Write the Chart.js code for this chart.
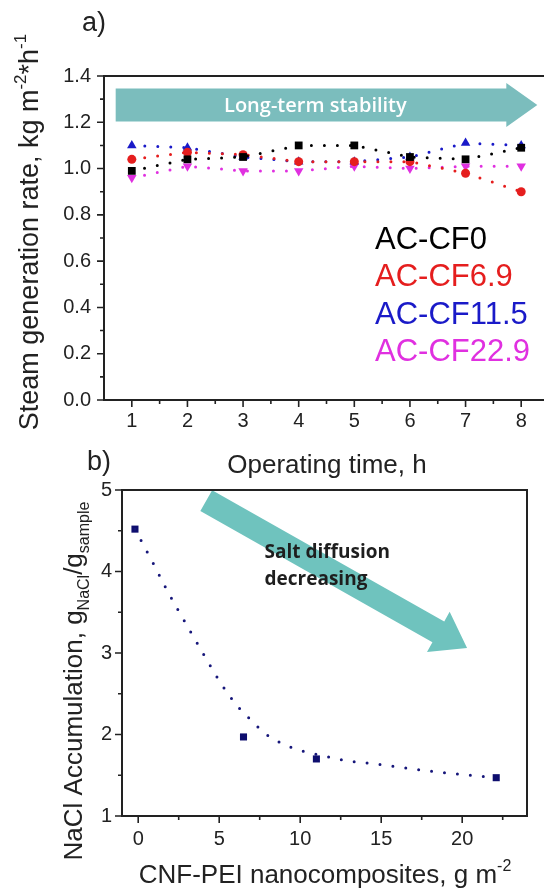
<!DOCTYPE html>
<html>
<head>
<meta charset="utf-8">
<script src="https://cdn.jsdelivr.net/npm/chart.js@4.4.1/dist/chart.umd.min.js"></script>
<style>
html, body { margin: 0; padding: 0; overflow: hidden; background: #fff; }
#wrap { position: relative; width: 544px; height: 889px; overflow: hidden; }
#topChart { position: absolute; left: 0; top: 0; }
#bottomChart { position: absolute; left: 0; top: 460px; }
</style>
</head>
<body>
<div id="wrap">
  <canvas id="topChart" width="570" height="480"></canvas>
  <canvas id="bottomChart" width="544" height="429"></canvas>
</div>
<script>
// ---- a) steam generation, 8 hours ----
var hours   = [1, 2, 3, 4, 5, 6, 7, 8];
var cf0     = [0.99, 1.04, 1.05, 1.10, 1.10, 1.05, 1.04, 1.09];
var cf69    = [1.04, 1.07, 1.06, 1.03, 1.03, 1.03, 0.98, 0.90];
var cf115   = [1.10, 1.09, 1.05, 1.03, 1.03, 1.05, 1.11, 1.10];
var cf229   = [0.96, 1.01, 0.99, 0.99, 1.01, 1.00, 1.01, 1.01];
var seriesNames = ['AC-CF0', 'AC-CF6.9', 'AC-CF11.5', 'AC-CF22.9'];
var yTicksA = [0, 0.2, 0.4, 0.6, 0.8, 1.0, 1.2, 1.4];

// ---- b) NaCl accumulation ----
var loading = [-0.2, 6.5, 11.0, 22.1];
var nacl    = [4.52, 1.97, 1.70, 1.47];
// dotted guide curve
var fitX = [-0.2, 0.98, 1.78, 2.6, 3.41, 4.31, 5.2, 6.29, 7.0, 7.72, 8.47, 9.9, 11.4, 12.86, 15.0, 17.25, 19.4, 22.1];
var fitY = [4.52, 4.08, 3.77, 3.48, 3.20, 2.89, 2.60, 2.31, 2.17, 2.03, 1.93, 1.81, 1.74, 1.68, 1.63, 1.57, 1.52, 1.47];
var xTicksB = [0, 5, 10, 15, 20];
var yTicksB = [1, 2, 3, 4, 5];

var FONT = '"Liberation Sans", Arial, sans-serif';
var INK = '#222';

function pts(xs, ys) {
    return xs.map(function (x, i) { return { x: x, y: ys[i] }; });
}

function dotted(label, data, color, style, radius, rot) {
    return {
        label: label,
        data: data,
        borderColor: color,
        backgroundColor: color,
        borderWidth: 3,
        borderDash: [0, 13],
        borderCapStyle: 'round',
        pointStyle: style,
        pointRadius: radius,
        pointRotation: rot || 0,
        pointBorderWidth: 0,
        tension: 0
    };
}

// text with sub / superscripts, centred on (x, y) baseline
function richText(ctx, parts, x, y, size, rot) {
    var small = Math.round(size * 0.62);
    ctx.save();
    ctx.translate(x, y);
    if (rot) ctx.rotate(rot);
    ctx.textAlign = 'left';
    ctx.textBaseline = 'alphabetic';
    var w = 0;
    parts.forEach(function (p) {
        ctx.font = (p[1] ? small : size) + 'px ' + FONT;
        w += ctx.measureText(p[0]).width;
    });
    var cx = -w / 2;
    parts.forEach(function (p) {
        ctx.font = (p[1] ? small : size) + 'px ' + FONT;
        var dy = p[1] === 1 ? -size * 0.45 : (p[1] === -1 ? size * 0.25 : 0);
        ctx.fillText(p[0], cx, dy);
        cx += ctx.measureText(p[0]).width;
    });
    ctx.restore();
}

function frameTicks(chart, xMajor, xMinor, yMajor, yMinor) {
    var ctx = chart.ctx, a = chart.chartArea, xs = chart.scales.x, ys = chart.scales.y;
    ctx.save();
    ctx.strokeStyle = INK;
    ctx.lineWidth = 2;
    ctx.strokeRect(a.left, a.top, a.right - a.left, a.bottom - a.top);
    ctx.lineWidth = 1.6;
    ctx.beginPath();
    xMajor.forEach(function (v) { var p = xs.getPixelForValue(v); ctx.moveTo(p, a.bottom); ctx.lineTo(p, a.bottom + 7); });
    xMinor.forEach(function (v) { var p = xs.getPixelForValue(v); ctx.moveTo(p, a.bottom); ctx.lineTo(p, a.bottom + 4); });
    yMajor.forEach(function (v) { var p = ys.getPixelForValue(v); ctx.moveTo(a.left, p); ctx.lineTo(a.left - 7, p); });
    yMinor.forEach(function (v) { var p = ys.getPixelForValue(v); ctx.moveTo(a.left, p); ctx.lineTo(a.left - 4, p); });
    ctx.stroke();
    ctx.restore();
}

function arrow(ctx, x0, y0, x1, y1, half, headHalf, headLen, color) {
    var dx = x1 - x0, dy = y1 - y0, len = Math.sqrt(dx * dx + dy * dy);
    var ux = dx / len, uy = dy / len, nx = -uy, ny = ux;
    var bx = x1 - ux * headLen, by = y1 - uy * headLen;
    ctx.save();
    ctx.fillStyle = color;
    ctx.beginPath();
    ctx.moveTo(x0 + nx * half, y0 + ny * half);
    ctx.lineTo(bx + nx * half, by + ny * half);
    ctx.lineTo(bx + nx * headHalf, by + ny * headHalf);
    ctx.lineTo(x1, y1);
    ctx.lineTo(bx - nx * headHalf, by - ny * headHalf);
    ctx.lineTo(bx - nx * half, by - ny * half);
    ctx.lineTo(x0 - nx * half, y0 - ny * half);
    ctx.closePath();
    ctx.fill();
    ctx.restore();
}

function seq(from, to, step) {
    var out = [];
    for (var v = from; v <= to + 1e-9; v += step) out.push(Math.round(v * 100) / 100);
    return out;
}

var baseScale = function (min, max, ticks, fit, pad, fmt) {
    return {
        type: 'linear',
        min: min,
        max: max,
        afterBuildTicks: function (s) { s.ticks = ticks.map(function (v) { return { value: v }; }); },
        afterFit: fit,
        grid: { drawOnChartArea: false, drawTicks: false },
        border: { display: false },
        ticks: {
            padding: pad,
            color: INK,
            font: { family: FONT, size: 20 },
            callback: fmt || function (v) { return v; }
        }
    };
};

// ---------- chart a) ----------
var topDeco = {
    id: 'topDeco',
    beforeDatasetsDraw: function (chart) {
        var ctx = chart.ctx, xs = chart.scales.x, ys = chart.scales.y;
        arrow(ctx, xs.getPixelForValue(0.71), ys.getPixelForValue(1.275),
                   xs.getPixelForValue(8.29), ys.getPixelForValue(1.275), 16.5, 22, 31, '#7bbdbd');
        ctx.save();
        ctx.fillStyle = '#fff';
        ctx.font = '600 20px "Open Sans", sans-serif';
        ctx.textAlign = 'center';
        ctx.textBaseline = 'middle';
        ctx.fillText('Long-term stability', xs.getPixelForValue(4.3), ys.getPixelForValue(1.275) + 1);
        ctx.restore();
    },
    afterDraw: function (chart) {
        var ctx = chart.ctx;
        frameTicks(chart, hours, seq(1.5, 8.5, 1), yTicksA, seq(0.1, 1.3, 0.2));
        ctx.save();
        ctx.fillStyle = INK;
        richText(ctx, [['a)', 0]], 94, 31, 27);
        richText(ctx, [['Steam generation rate, kg m', 0], ['-2', 1], ['*h', 0], ['-1', 1]], 38, 232, 27, -Math.PI / 2);
        richText(ctx, [['Operating time, h', 0]], 327, 473, 26);
        richText(ctx, [['b)', 0]], 99, 470, 27);
        var colors = ['#000000', '#e51e1e', '#1a1ac8', '#e030e0'];
        ctx.font = '31px ' + FONT;
        ctx.textAlign = 'left';
        ctx.textBaseline = 'middle';
        seriesNames.forEach(function (n, i) {
            ctx.fillStyle = colors[i];
            ctx.fillText(n, 375, 240 + i * 37.5);
        });
        ctx.restore();
    }
};

new Chart(document.getElementById('topChart'), {
    type: 'line',
    data: {
        datasets: [
            dotted(seriesNames[0], pts(hours, cf0), '#000000', 'rect', 5.5),
            dotted(seriesNames[1], pts(hours, cf69), '#e51e1e', 'circle', 4.5),
            dotted(seriesNames[2], pts(hours, cf115), '#1a1ac8', 'triangle', 5.5),
            dotted(seriesNames[3], pts(hours, cf229), '#e030e0', 'triangle', 5.5, 180)
        ]
    },
    options: {
        responsive: false,
        animation: false,
        devicePixelRatio: 1,
        layout: { padding: { top: 76, right: 21, left: 0, bottom: 0 } },
        plugins: { legend: { display: false }, tooltip: { enabled: false } },
        scales: {
            x: baseScale(0.5, 8.5, hours, function (s) { s.height = 80; }, 9),
            y: baseScale(0, 1.4, yTicksA, function (s) { s.width = 104; }, 13,
                function (v) { return v.toFixed(1); })
        }
    },
    plugins: [topDeco]
});

// ---------- chart b) ----------
var bottomDeco = {
    id: 'bottomDeco',
    beforeDatasetsDraw: function (chart) {
        var ctx = chart.ctx, xs = chart.scales.x, ys = chart.scales.y;
        arrow(ctx, xs.getPixelForValue(4.2), ys.getPixelForValue(4.87),
                   xs.getPixelForValue(20.3), ys.getPixelForValue(3.06), 12, 23, 33, '#6fc3be');
        ctx.save();
        ctx.fillStyle = '#1e1e1e';
        ctx.font = 'bold 19px "Open Sans", sans-serif';
        ctx.textAlign = 'left';
        ctx.textBaseline = 'middle';
        ctx.fillText('Salt diffusion', xs.getPixelForValue(7.8), ys.getPixelForValue(4.23));
        ctx.fillText('decreasing', xs.getPixelForValue(7.8), ys.getPixelForValue(3.9));
        ctx.restore();
    },
    afterDraw: function (chart) {
        var ctx = chart.ctx;
        frameTicks(chart, xTicksB, [2.5, 7.5, 12.5, 17.5, 22.5], yTicksB, [1.5, 2.5, 3.5, 4.5]);
        ctx.save();
        ctx.fillStyle = INK;
        richText(ctx, [['NaCl Accumulation, g', 0], ['NaCl', -1], ['/g', 0], ['sample', -1]], 82, 221, 26, -Math.PI / 2);
        richText(ctx, [['CNF-PEI nanocomposites, g m', 0], ['-2', 1]], 325, 423, 26);
        ctx.restore();
    }
};

new Chart(document.getElementById('bottomChart'), {
    type: 'line',
    data: {
        datasets: [
            {
                label: 'fit',
                data: pts(fitX, fitY),
                borderColor: '#16167a',
                borderWidth: 3,
                borderDash: [0, 13],
                borderCapStyle: 'round',
                pointRadius: 0,
                cubicInterpolationMode: 'monotone'
            },
            {
                label: 'NaCl',
                data: pts(loading, nacl),
                showLine: false,
                pointStyle: 'rect',
                pointRadius: 5,
                pointBorderWidth: 0,
                backgroundColor: '#0e0e6e'
            }
        ]
    },
    options: {
        responsive: false,
        animation: false,
        devicePixelRatio: 1,
        layout: { padding: { top: 30, right: 17, left: 0, bottom: 0 } },
        plugins: { legend: { display: false }, tooltip: { enabled: false } },
        scales: {
            x: baseScale(-1, 24, xTicksB, function (s) { s.height = 73; }, 11),
            y: baseScale(1, 5, yTicksB, function (s) { s.width = 122; }, 10)
        }
    },
    plugins: [bottomDeco]
});
</script>
</body>
</html>
